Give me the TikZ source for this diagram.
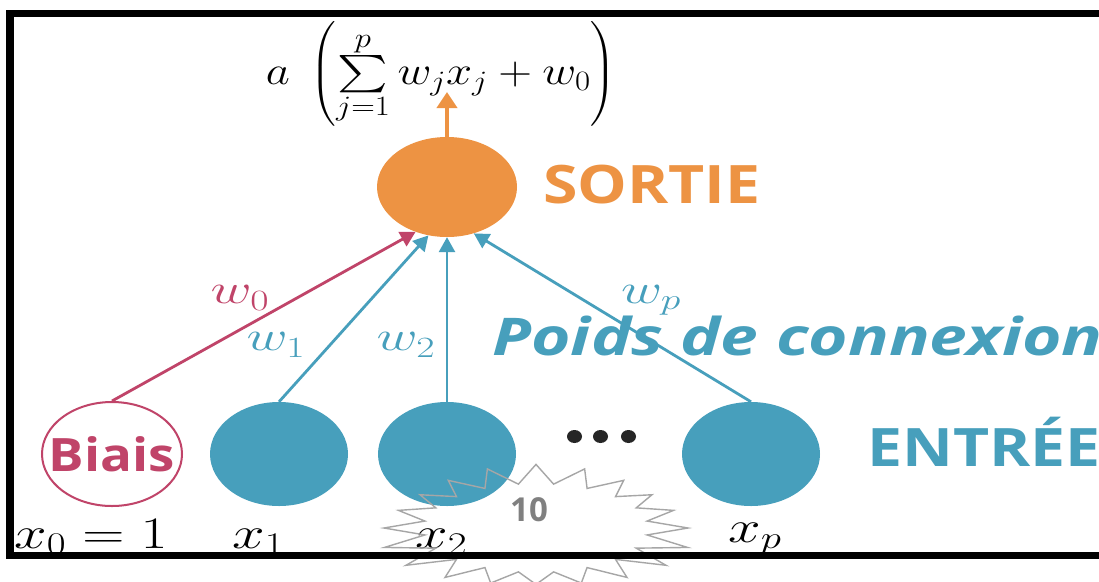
\RequirePackage{fix-cm}
\documentclass[tikz,border=0pt]{standalone}
\usepackage{amsmath}
\usepackage{exscale}
\usepackage{graphicx}
\usepackage{fontspec}
\newfontfamily\osans{Open Sans}
\usetikzlibrary{shapes.geometric,arrows.meta}
\definecolor{orng}{HTML}{ED9343}
\definecolor{tealc}{HTML}{479FBC}
\definecolor{crim}{HTML}{C04469}
\definecolor{stargray}{HTML}{A6A6A6}
\definecolor{numgray}{HTML}{808080}
\definecolor{dotc}{HTML}{262626}
\newcommand{\bigsumsym}{\mathop{\vcenter{\hbox{\scalebox{1.65}[1.5]{$\sum$}}}}\limits}
\tikzset{
  neuron/.style={ellipse, minimum width=138pt, minimum height=104pt, inner sep=0pt},
  inneuron/.style={neuron, fill=tealc},
  conn/.style={line width=2.8pt, -{Triangle[length=15pt,width=16pt]}},
  bigsans/.style={font=\osans\bfseries\fontsize{53}{60}\selectfont, inner sep=0pt},
  wlab/.style={font=\fontsize{42}{48}\selectfont, inner sep=0pt},
  xlab/.style={font=\fontsize{45}{50}\selectfont, inner sep=0pt, anchor=base west},
}
\begin{document}
\begin{tikzpicture}[x=1pt,y=-1pt]
\useasboundingbox (0,0) rectangle (1099,581);
\fill[white] (0,0) rectangle (1099,581);
\begin{scope}
\clip (0,0) rectangle (1099,556);
% formula
\node[font=\fontsize{40}{48}\selectfont, inner sep=0pt] (formula) at (441,74)
  {\scalebox{1.17}[1]{$a\;\left(\displaystyle\bigsumsym_{j=1}^{p} w_jx_j + w_0\right)$}};
% neurons
\node[neuron, fill=orng, minimum width=140pt, minimum height=100pt] (out) at (447,187) {};
\node[neuron, draw=crim, line width=2pt, minimum width=140pt] (bias) at (112,454) {};
\node[text=crim, font=\osans\bfseries\fontsize{46}{50}\selectfont, inner sep=0pt] (biastext) at (bias.center) {\scalebox{1.15}[1]{Biais}};
\node[inneuron] (x1) at (279,454) {};
\node[inneuron] (x2) at (447,454) {};
\node[inneuron] (xp) at (751,454) {};
% dots
\fill[dotc] (574.5,436.5) ellipse (7.5pt and 6.5pt);
\fill[dotc] (600.5,436.5) ellipse (7.5pt and 6.5pt);
\fill[dotc] (628.5,436.5) ellipse (7.5pt and 6.5pt);
% connectors
\coordinate (outtip) at (447,92);
\draw[orng, line width=3.6pt, -{Triangle[length=16pt,width=20pt]}] (out.north) -- (outtip);
\draw[conn, crim] (bias.north) -- (out.235);
\draw[conn, tealc] (x1.north) -- (out.249);
\draw[conn, tealc] (x2.north) -- (out.south);
\draw[conn, tealc] (xp.north) -- (out.300);
% weight labels
\node[wlab, text=crim] (lw0) at (240,298) {\scalebox{1.35}[1]{$w_0$}};
\node[wlab, text=tealc] (lw1) at (276,345) {\scalebox{1.35}[1]{$w_1$}};
\node[wlab, text=tealc] (lw2) at (406,345) {\scalebox{1.35}[1]{$w_2$}};
\node[wlab, text=tealc] (lwp) at (651,300) {\scalebox{1.35}[1]{$w_p$}};
% texts
\node[bigsans, text=orng, anchor=base west] (sortie) at (543,203) {\scalebox{1.18}[1]{SORTIE}};
\node[bigsans, text=tealc, anchor=base west] (entree) at (867,466) {\scalebox{1.18}[1]{ENTRÉE}};
\node[font=\osans\bfseries\itshape\fontsize{52}{60}\selectfont, text=tealc, inner sep=0pt, anchor=base west] (poids) at (492,355) {\scalebox{1.3}[1]{Poids de connexion}};
% input labels
\node[xlab] (lx0) at (14,548) {\scalebox{1.3}[1]{$x_0 = 1$}};
\node[xlab] (lx1) at (232,548) {\scalebox{1.3}[1]{$x_1$}};
\node[xlab] (lx2) at (415,548) {\scalebox{1.3}[1]{$x_2$}};
\node[xlab] (lxp) at (728,542) {\scalebox{1.3}[1]{$x_p$}};
\end{scope}
% page-number starburst
\draw[stargray, line width=1.4pt, line join=miter]
  plot[domain=0:360, samples=41]
  ({536+152*ifthenelse(mod(round(\x/9),2)==0,1+0.06*sin(3*\x),0.74)*cos(\x)},
   {528+60*ifthenelse(mod(round(\x/9),2)==0,1+0.06*sin(3*\x),0.74)*sin(\x)}) -- cycle;
\node[font=\osans\bfseries\fontsize{33}{36}\selectfont, text=numgray, inner sep=0pt] (pagenum) at (529,510) {10};
% frame
\draw[line width=7.5pt, line join=miter] (1130,13.5) -- (10,13.5) -- (10,555.5) -- (1130,555.5);
\end{tikzpicture}
\end{document}
